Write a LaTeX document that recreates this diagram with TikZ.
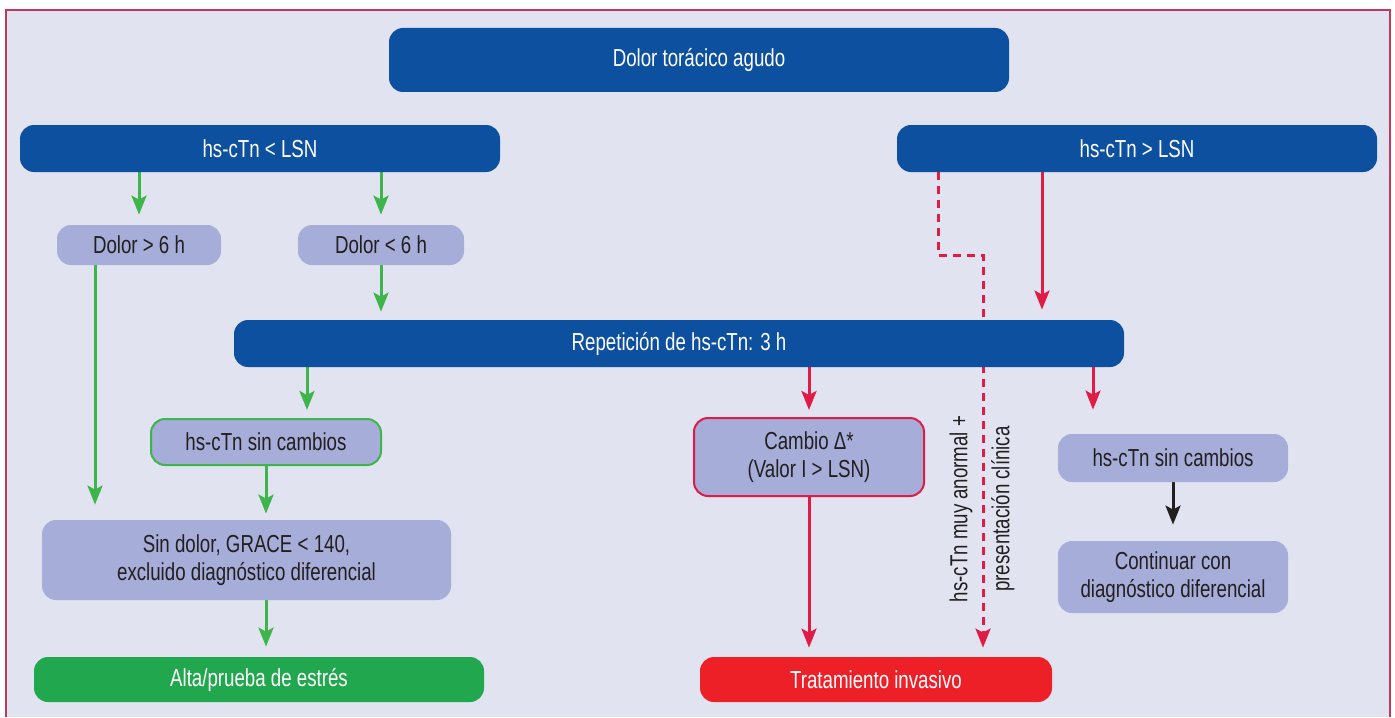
\documentclass[tikz,border=0pt]{standalone}
\usepackage{fontspec}
\setmainfont{Liberation Sans}[FakeStretch=0.76]
\usepackage{tikz}
\usetikzlibrary{arrows.meta,calc,positioning}
\definecolor{azul}{HTML}{0D50A0}
\definecolor{lila}{HTML}{A5ADD8}
\definecolor{fondo}{HTML}{E1E3F0}
\definecolor{verdeflecha}{HTML}{3DB54A}
\definecolor{verdecaja}{HTML}{21A84F}
\definecolor{rojoflecha}{HTML}{E01B45}
\definecolor{rojocaja}{HTML}{ED2027}
\definecolor{marco}{HTML}{BC3B5C}
\definecolor{texto}{HTML}{231F20}
\pgfdeclarelayer{fondo}
\pgfdeclarelayer{flechas}
\pgfsetlayers{fondo,flechas,main}
\tikzstyle{caja}  =[rounded corners=7pt, inner sep=0pt, align=center]
\tikzstyle{oscura}=[caja, fill=azul, text=white]
\tikzstyle{clara} =[caja, fill=lila, text=texto]
\tikzstyle{flecha}=[-{Stealth[length=9.5pt,width=7.5pt,inset=2pt]},
                    line width=1.5pt]
\tikzstyle{fverde}=[flecha, draw=verdeflecha]
\tikzstyle{froja} =[flecha, draw=rojoflecha]

\begin{document}
\begin{tikzpicture}[x=0.5pt, y=-0.5pt,
        every node/.style={font=\fontsize{12.3}{14}\selectfont}]
        \useasboundingbox (0,0) rectangle (1395,717);

        % cajas
        \node[oscura, minimum width=310pt, minimum height=32pt] (dolor) at (699,60) {Dolor torácico agudo};
        \node[oscura, minimum width=240pt, minimum height=23.5pt] (menos) at (260,148.5) {hs-cTn < LSN};
        \node[oscura, minimum width=240pt, minimum height=23.5pt] (mas) at (1137,148.5) {hs-cTn > LSN};
        \node[clara, minimum width=82pt, minimum height=20pt] (dmas) at (139,245) {Dolor > 6 h};
        \node[clara, minimum width=83pt, minimum height=20pt] (dmenos) at (381,245) {Dolor < 6 h};
        \node[oscura, minimum width=445pt, minimum height=23.5pt] (repe) at (679,343.5) {Repetición de hs-cTn: 3 h};
        \node[clara, draw=verdeflecha, line width=1pt, minimum width=115pt, minimum height=23pt] (igual) at (266,442) {hs-cTn sin cambios};
        \node[clara, minimum width=204.5pt, minimum height=40pt] (sindolor) at (246.5,560) {Sin dolor, GRACE < 140,\\excluido diagnóstico diferencial};
        \node[caja, fill=verdecaja, text=white, minimum width=225pt, minimum height=22.5pt] (alta) at (259,679.5) {Alta/prueba de estrés};
        \node[clara, draw=rojoflecha, line width=1pt, minimum width=115pt, minimum height=39pt] (cambio) at (809,457) {Cambio Δ*\\(Valor I > LSN)};
        \node[caja, fill=rojocaja, text=white, minimum width=176pt, minimum height=22.5pt] (trata) at (876,679.5) {Tratamiento invasivo};
        \node[clara, minimum width=115pt, minimum height=24pt] (igualb) at (1173,458) {hs-cTn sin cambios};
        \node[clara, minimum width=115pt, minimum height=36pt] (sigue) at (1173,577) {Continuar con\\diagnóstico diferencial};
        \node[text=texto, rotate=90, align=center] (nota) at (982,509) {hs-cTn muy anormal +\\[7pt]presentación clínica};

        \coordinate (giro) at (983,255);

        \begin{pgfonlayer}{fondo}
            \fill[fondo] (6,10) rectangle (1390,717);
            \draw[marco, line width=1pt] (6,717) -- (6,10) -- (1390,10) -- (1390,717);
        \end{pgfonlayer}

        \begin{pgfonlayer}{flechas}
            % rama verde
            \draw[fverde, shorten >=5pt] (menos.south -| dmas.north) -- (dmas.north);
            \draw[fverde, shorten >=5pt] (menos.south -| dmenos.north) -- (dmenos.north);
            \draw[fverde, shorten >=4pt] (dmenos.south) -- (repe.north -| dmenos.south);
            \draw[fverde, shorten >=7.5pt] ([xshift=-22pt]dmas.south) -- ([xshift=-22pt]dmas.south |- sindolor.north);
            \draw[fverde, shorten >=4pt] ([xshift=20.5pt]igual.north |- repe.south) -- ([xshift=20.5pt]igual.north);
            \draw[fverde, shorten >=3pt] (igual.south) -- (sindolor.north -| igual.south);
            \draw[fverde, shorten >=5pt] (sindolor.south -| igual.south) -- (alta.north -| igual.south);
            % rama roja
            \draw[froja, shorten >=5pt] ([xshift=-47.5pt]mas.south) -- ([xshift=-47.5pt]mas.south |- repe.north);
            \draw[froja, shorten >=3.5pt] (repe.south -| cambio.north) -- (cambio.north);
            \draw[froja, shorten >=4.5pt] (cambio.south) -- (trata.north -| cambio.south);
            \draw[froja, shorten >=12pt] ([xshift=-40pt]igualb.north |- repe.south) -- ([xshift=-40pt]igualb.north);
            \draw[froja, dash pattern=on 4pt off 3pt, shorten >=4.5pt] ([xshift=-99.5pt]mas.south) |- (giro) -- (giro |- trata.north);
            \draw[flecha, draw=texto, shorten >=8pt] (igualb.south) -- (sigue.north);
        \end{pgfonlayer}
\end{tikzpicture}
\end{document}
